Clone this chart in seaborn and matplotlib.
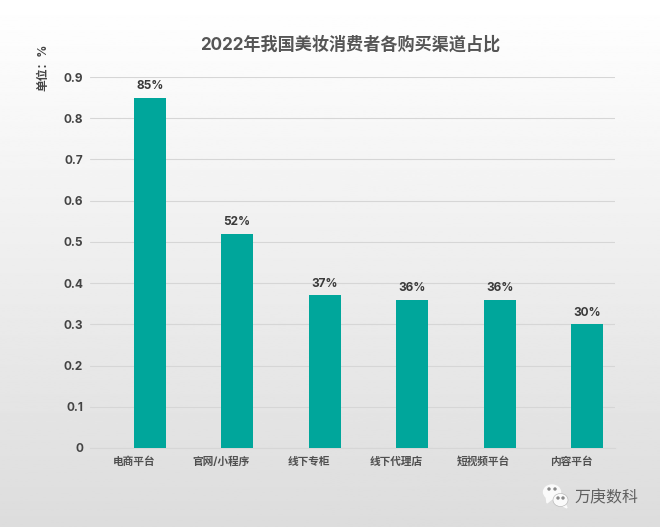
# 2022 beauty purchase channels bar chart
import numpy as np
import pandas as pd
import seaborn as sns
import matplotlib.pyplot as plt
from matplotlib.patches import Ellipse, Polygon

channels = ['电商平台', '官网/小程序', '线下专柜', '线下代理店', '短视频平台', '内容平台']
shares = [0.85, 0.52, 0.37, 0.36, 0.36, 0.30]
share_labels = ['85%', '52%', '37%', '36%', '36%', '30%']
y_ticks = [0, 0.1, 0.2, 0.3, 0.4, 0.5, 0.6, 0.7, 0.8, 0.9]
y_tick_labels = ['0', '0.1', '0.2', '0.3', '0.4', '0.5', '0.6', '0.7', '0.8', '0.9']

sns.set_style('white')
plt.rcParams['font.family'] = ['Inter', 'Noto Sans CJK SC', 'DejaVu Sans']

W, H = 660, 527
fig = plt.figure(figsize=(W / 100, H / 100), dpi=100)

# grey gradient behind everything
bg = fig.add_axes([0, 0, 1, 1], zorder=0)
bg.imshow(np.linspace(1, 0.865, 256).reshape(-1, 1), cmap='gray', vmin=0, vmax=1,
          aspect='auto', extent=[0, W, H, 0])
bg.set_xlim(0, W)
bg.set_ylim(H, 0)
bg.axis('off')

ax = fig.add_axes([90 / W, (H - 448) / H, 525 / W, 371 / H], zorder=1)
ax.patch.set_alpha(0)

# first series is empty, so the bars sit right of the category centre like the original
df = pd.DataFrame({
    'channel': channels + channels,
    'share': [np.nan] * len(channels) + shares,
    'series': ['空'] * len(channels) + ['占比'] * len(channels),
})
sns.barplot(data=df, x='channel', y='share', hue='series', hue_order=['空', '占比'],
            order=channels, palette=['#ffffff', '#00a69b'], width=0.73, gap=0,
            saturation=1, linewidth=0, legend=False, ax=ax, zorder=3)

ax.set_xlim(-0.5, len(channels) - 0.5)
ax.set_ylim(0, 0.9)
ax.set_xlabel('')
ax.set_ylabel('')
ax.set_yticks(y_ticks)
ax.set_yticklabels(y_tick_labels, fontsize=8.5, fontweight='bold', color='#444444')
ax.set_xticks(range(len(channels)))
ax.set_xticklabels(channels, fontsize=7.7, fontweight='bold', color='#505050')
ax.tick_params(axis='both', length=0)
ax.tick_params(axis='x', pad=10)
ax.tick_params(axis='y', pad=5)
# centre the labels so that every one sits on the same line
for label in ax.get_xticklabels():
    label.set_verticalalignment('center')
ax.grid(axis='y', color='#d6d6d6', linewidth=0.8, zorder=0)
ax.set_axisbelow(True)
for s in ['top', 'right', 'left']:
    ax.spines[s].set_visible(False)
ax.spines['bottom'].set_color('#d6d6d6')
ax.spines['bottom'].set_linewidth(0.8)

ax.bar_label(ax.containers[-1], labels=share_labels, padding=4, fontsize=8.5,
             fontweight='bold', color='#3a3a3a')

over = fig.add_axes([0, 0, 1, 1], zorder=2)
over.set_xlim(0, W)
over.set_ylim(H, 0)
over.axis('off')

over.text(350, 45, '2022年我国美妆消费者各购买渠道占比', fontsize=12.3, fontweight='bold',
          color='#555555', ha='center', va='center')
over.text(43, 67, '单位：%', fontsize=8.5, fontweight='bold', color='#444444',
          rotation=90, ha='center', va='center')

# wechat mark and account name
over.add_patch(Polygon([[546, 495], [547, 503], [553, 498]], color='#fafafa'))
over.add_patch(Ellipse((552, 492), 17, 14, color='#fafafa'))
over.add_patch(Polygon([[565, 503], [567, 508], [561, 505]], color='#fafafa'))
over.add_patch(Ellipse((560.5, 500), 15, 13, color='#fafafa', ec='#b0b0b0', lw=0.4))
for dot_x, dot_y in [(549, 489), (555, 489), (558, 498), (563, 498)]:
    over.add_patch(Ellipse((dot_x, dot_y), 2, 2, color='#888888'))
over.text(606, 498, '万庚数科', fontsize=11.5, color='#606060', ha='center', va='center')

fig.savefig('out.png', dpi=100)
